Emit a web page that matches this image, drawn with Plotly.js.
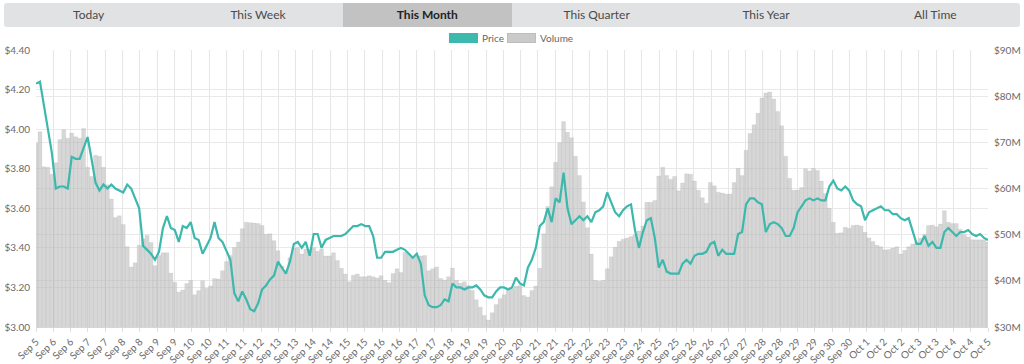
<!DOCTYPE html>
<html>
<head>
<meta charset="utf-8">
<script src="https://cdn.plot.ly/plotly-3.0.1.min.js"></script>
<style>
  html, body { margin: 0; padding: 0; background: #fff; }
  body { width: 1024px; height: 364px; position: relative; overflow: hidden; font-family: Lato, "Open Sans", sans-serif; }
  #chart { position: absolute; left: 0; top: 0; width: 1024px; height: 364px; }
  #tabs { position: absolute; left: 4px; top: 3px; width: 1016px; height: 24px; display: flex; border-radius: 3px; overflow: hidden; background: #e1e2e4; z-index: 5; }
  #tabs div { flex: 1; text-align: center; line-height: 24px; font-size: 12px; color: #4a4a4a; }
  #tabs div.active { background: #c2c2c2; color: #222; font-weight: bold; }
  #legend { position: absolute; top: 33px; left: 449px; height: 11px; z-index: 5; font-size: 10px; color: #666; }
  .sw { position: absolute; top: 0; width: 29px; height: 10px; }
  .lt { position: absolute; top: -1px; line-height: 12px; white-space: nowrap; }
</style>
</head>
<body>
<div id="chart"></div>
<div id="tabs"></div>
<div id="legend">
  <div class="sw" style="left:0;background:#3cb8ad;"></div>
  <div class="lt" style="left:33px;">Price</div>
  <div class="sw" style="left:58px;background:#cacaca;border:1px solid #bdbdbd;box-sizing:border-box;"></div>
  <div class="lt" style="left:91px;">Volume</div>
</div>
<script>
// ---- data ----
const tabNames = ["Today", "This Week", "This Month", "This Quarter", "This Year", "All Time"];
const activeTab = "This Month";

const tickLabels = ["Sep 5","Sep 6","Sep 6","Sep 7","Sep 7","Sep 8","Sep 8","Sep 9","Sep 9","Sep 10","Sep 10","Sep 11","Sep 11","Sep 12","Sep 13","Sep 13","Sep 14","Sep 14","Sep 15","Sep 15","Sep 16","Sep 16","Sep 17","Sep 17","Sep 18","Sep 19","Sep 19","Sep 20","Sep 20","Sep 21","Sep 21","Sep 22","Sep 22","Sep 23","Sep 23","Sep 24","Sep 25","Sep 25","Sep 26","Sep 26","Sep 27","Sep 27","Sep 28","Sep 28","Sep 29","Sep 29","Sep 30","Sep 30","Oct 1","Oct 2","Oct 2","Oct 3","Oct 3","Oct 4","Oct 4","Oct 5"];

const periodHours = 720;   // Sep 5 -> Oct 5
const sampleHours = 3;     // one sample every 3 hours

const price = [
 4.23,4.24,4.12,3.99,3.88,3.70,3.71,3.71,3.70,3.86,
 3.85,3.85,3.91,3.96,3.85,3.73,3.69,3.72,3.70,3.72,
 3.70,3.69,3.68,3.72,3.70,3.65,3.60,3.41,3.39,3.37,
 3.34,3.38,3.50,3.56,3.50,3.49,3.43,3.51,3.50,3.53,
 3.45,3.44,3.37,3.41,3.45,3.53,3.45,3.43,3.38,3.34,
 3.17,3.13,3.18,3.14,3.09,3.08,3.12,3.19,3.21,3.24,
 3.26,3.33,3.30,3.27,3.33,3.42,3.43,3.40,3.43,3.36,
 3.47,3.47,3.40,3.44,3.45,3.46,3.46,3.46,3.47,3.49,
 3.51,3.51,3.52,3.51,3.51,3.46,3.35,3.35,3.38,3.38,
 3.38,3.39,3.40,3.39,3.37,3.35,3.37,3.32,3.16,3.11,
 3.10,3.10,3.11,3.14,3.13,3.22,3.20,3.20,3.19,3.20,
 3.20,3.21,3.19,3.16,3.15,3.15,3.18,3.20,3.20,3.19,
 3.20,3.25,3.22,3.21,3.30,3.34,3.40,3.51,3.53,3.60,
 3.53,3.65,3.63,3.78,3.60,3.52,3.54,3.56,3.54,3.56,
 3.53,3.58,3.59,3.61,3.68,3.63,3.58,3.56,3.59,3.61,
 3.62,3.49,3.40,3.48,3.54,3.55,3.45,3.30,3.34,3.28,
 3.27,3.27,3.27,3.32,3.34,3.32,3.36,3.37,3.37,3.38,
 3.42,3.43,3.36,3.39,3.37,3.37,3.37,3.47,3.48,3.62,
 3.65,3.65,3.63,3.62,3.48,3.52,3.53,3.52,3.50,3.46,
 3.46,3.50,3.58,3.61,3.64,3.65,3.64,3.65,3.64,3.64,
 3.71,3.74,3.70,3.69,3.71,3.69,3.64,3.62,3.61,3.54,
 3.58,3.59,3.60,3.61,3.59,3.59,3.57,3.57,3.55,3.54,
 3.55,3.49,3.42,3.42,3.46,3.41,3.43,3.40,3.40,3.48,
 3.50,3.48,3.46,3.48,3.48,3.49,3.47,3.46,3.47,3.45,
 3.44
];

const volumeM = [
 69.8,72.3,64.7,64.6,63.1,65.6,70.6,72.7,70.9,72.0,
 71.2,70.9,73.0,64.6,62.6,67.2,67.0,64.6,60.8,57.7,
 53.7,54.1,52.2,47.4,43.0,43.9,47.7,49.1,49.9,48.3,
 43.3,45.5,46.1,46.1,41.7,39.7,37.6,38.0,39.4,40.1,
 37.0,37.9,40.0,38.4,38.9,40.5,40.4,42.2,44.2,45.5,
 47.2,48.4,51.3,52.7,52.6,52.5,52.4,52.0,50.1,50.2,
 48.7,46.5,43.2,42.2,45.0,47.1,47.2,45.8,46.9,46.8,
 47.2,46.4,46.9,45.4,45.4,46.1,44.4,42.7,41.5,39.8,
 41.2,41.5,40.9,40.9,41.1,40.9,40.6,41.1,40.1,39.6,
 41.6,42.6,41.8,46.2,45.8,45.3,45.3,45.4,45.5,42.2,
 42.6,43.0,40.5,40.2,40.9,42.8,40.1,39.5,39.8,39.0,
 37.9,35.9,34.3,32.5,31.5,33.1,34.9,36.2,37.0,37.9,
 38.3,38.8,39.0,36.8,36.5,37.9,38.9,42.7,50.2,56.1,
 60.4,65.7,69.9,74.5,72.2,71.0,67.0,62.8,57.1,51.5,
 45.8,40.1,39.9,40.1,42.6,45.2,47.3,48.6,49.0,49.3,
 49.6,50.0,50.8,51.9,57.0,57.0,57.4,62.7,64.6,62.8,
 62.0,62.6,59.5,61.2,63.2,63.1,61.6,59.6,58.0,56.8,
 61.3,60.6,59.2,59.0,58.8,58.8,61.3,64.4,62.8,68.3,
 71.9,73.8,76.3,79.6,80.7,80.9,79.4,76.7,73.6,67.0,
 62.2,59.6,59.7,60.2,64.3,63.8,64.4,63.9,61.6,58.9,
 55.7,52.7,50.3,50.4,51.6,51.4,52.0,52.1,51.9,50.5,
 49.3,48.5,47.7,47.4,46.7,46.8,47.1,47.4,45.8,46.6,
 47.4,48.0,48.4,49.2,50.1,52.0,52.1,51.7,52.3,55.2,
 52.7,52.4,52.4,51.2,50.0,49.5,48.9,48.9,48.9,48.9,
 48.4
];

const priceTicks = [3.0, 3.2, 3.4, 3.6, 3.8, 4.0, 4.2, 4.4];
const priceTickText = ["$3.00", "$3.20", "$3.40", "$3.60", "$3.80", "$4.00", "$4.20", "$4.40"];
const volumeTicks = [30, 40, 50, 60, 70, 80, 90];
const volumeTickText = ["$30M", "$40M", "$50M", "$60M", "$70M", "$80M", "$90M"];

// ---- tabs ----
const tabs = document.getElementById('tabs');
tabNames.forEach(n => {
  const d = document.createElement('div');
  d.textContent = n;
  if (n === activeTab) d.className = 'active';
  tabs.appendChild(d);
});

// ---- chart ----
const hoursP = price.map((_, i) => i * sampleHours);
const hoursV = volumeM.map((_, i) => i * sampleHours);
const tickVals = tickLabels.map((_, i) => i * periodHours / (tickLabels.length - 1));

const font = { family: 'Lato, "Open Sans", sans-serif', size: 10, color: '#6a6a6a' };

const traces = [
  {
    type: 'bar', x: hoursV, y: volumeM, yaxis: 'y', name: 'Volume',
    width: sampleHours,
    marker: { color: 'rgba(188,188,188,0.6)', line: { color: 'rgba(150,150,150,0.22)', width: 0.5 } },
    hoverinfo: 'skip'
  },
  {
    type: 'scatter', mode: 'lines', x: hoursP, y: price, yaxis: 'y2', name: 'Price',
    line: { color: '#3cb8ad', width: 2.2 },
    hoverinfo: 'skip'
  }
];

const layout = {
  width: 1024, height: 364,
  margin: { l: 36, r: 36, t: 50, b: 37, pad: 0 },
  paper_bgcolor: '#fff', plot_bgcolor: '#fff',
  showlegend: false,
  bargap: 0,
  font: font,
  xaxis: {
    range: [0, periodHours], tickmode: 'array', tickvals: tickVals, ticktext: tickLabels,
    tickangle: -45, showgrid: true, gridcolor: '#e6e6e6', gridwidth: 1,
    ticks: 'outside', ticklen: 4, tickcolor: '#e0e0e0',
    showline: true, linecolor: '#d6d6d6', zeroline: false, automargin: false,
    tickfont: font
  },
  yaxis: {
    side: 'right', range: [30, 90], tickmode: 'array', tickvals: volumeTicks, ticktext: volumeTickText,
    showgrid: true, gridcolor: '#e9e9e9',
    zeroline: false, ticks: '', ticklabelstandoff: 5, automargin: false, tickfont: font
  },
  yaxis2: {
    side: 'left', overlaying: 'y', range: [3.0, 4.4], tickmode: 'array', tickvals: priceTicks, ticktext: priceTickText,
    showgrid: true, gridcolor: '#e9e9e9',
    zeroline: false, ticks: '', ticklabelstandoff: 5, automargin: false, tickfont: font
  }
};

Plotly.newPlot('chart', traces, layout, { displayModeBar: false, staticPlot: true });
</script>
</body>
</html>
